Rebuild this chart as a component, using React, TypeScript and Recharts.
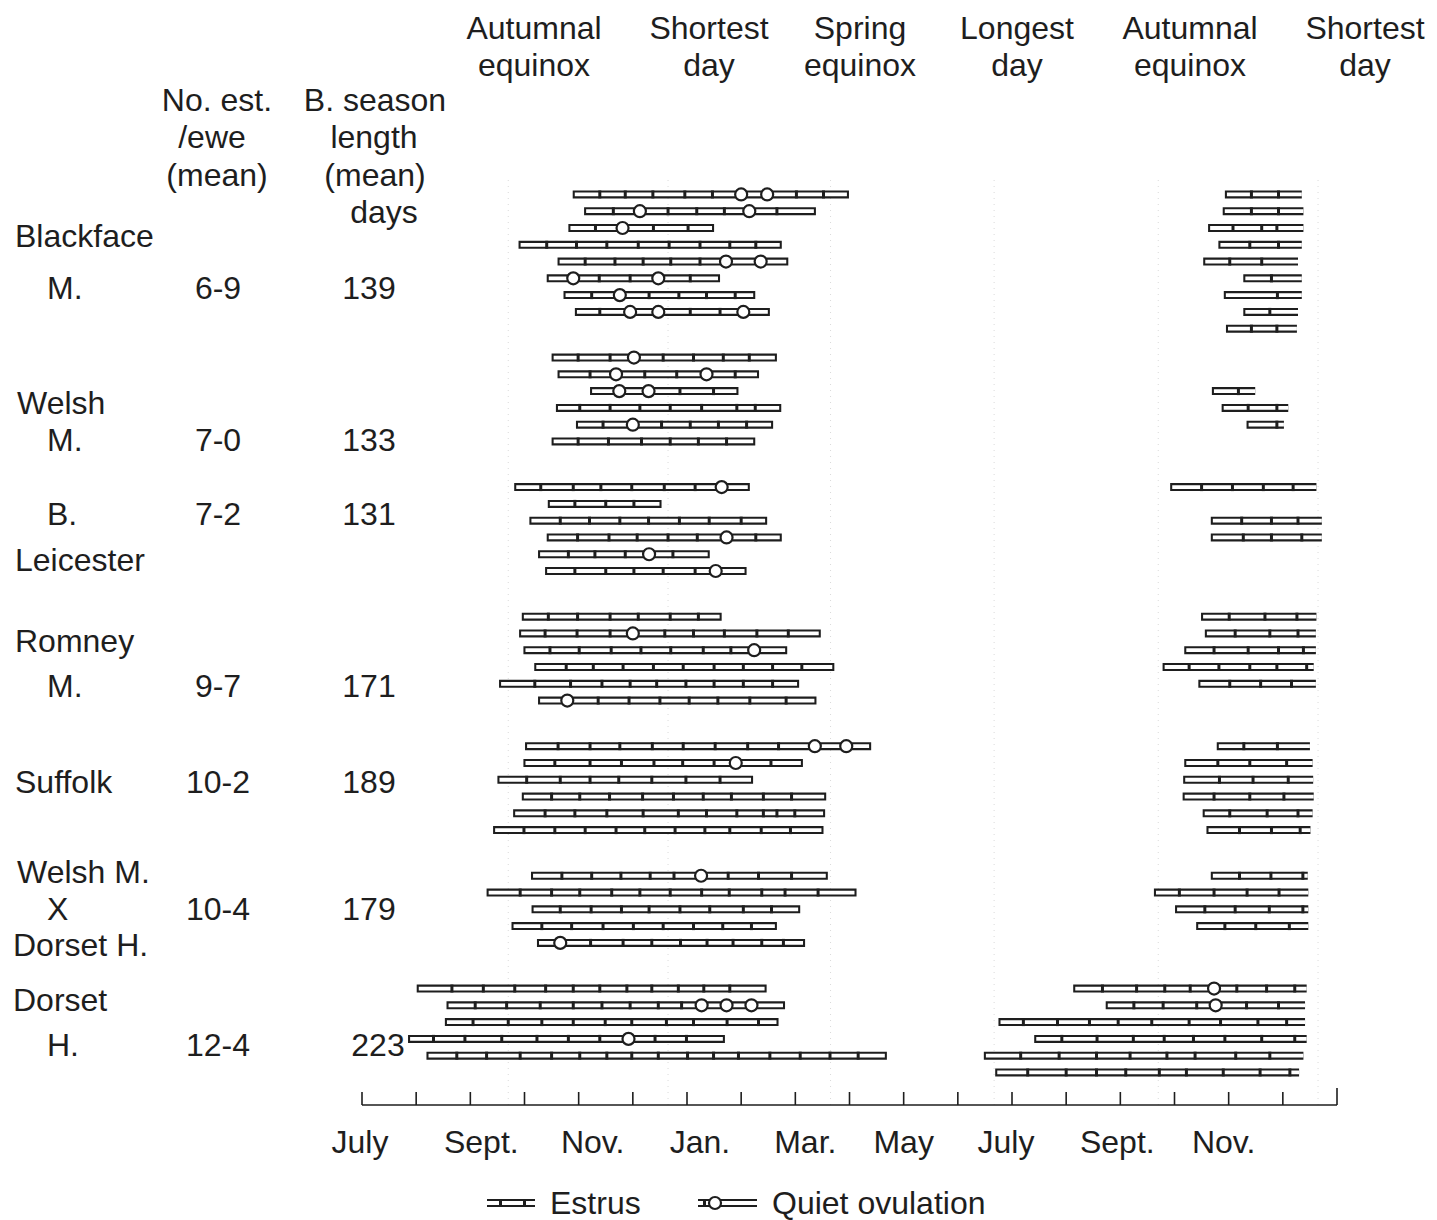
import React from 'react';
import { ComposedChart, Line, Scatter, XAxis, YAxis, ReferenceLine } from 'recharts';

// x values are months counted from 1 July of the first year (0 = July, 18 = end of December next year)
interface Run {
  row: number;
  start: number;
  end: number;
  cycles: number[];
  quiet?: number[];
}

const breedNames = [['Blackface', 'M.'], ['Welsh', 'M.'], ['B.', 'Leicester'], ['Romney', 'M.'], ['Suffolk'], ['Welsh M.', 'X', 'Dorset H.'], ['Dorset', 'H.']];
const estrusPerEwe = ['6-9', '7-0', '7-2', '9-7', '10-2', '10-4', '12-4'];
const seasonLength = ['139', '133', '131', '171', '189', '179', '223'];

const monthTicks = [0, 1, 2, 3, 4, 5, 6, 7, 8, 9, 10, 11, 12, 13, 14, 15, 16, 17, 18];
const labelMonths = [0, 2, 4, 6, 8, 10, 12, 14, 16];
const monthNames = ['July', 'Sept.', 'Nov.', 'Jan.', 'Mar.', 'May', 'July', 'Sept.', 'Nov.'];

const seasonMarks = [2.70, 5.65, 8.65, 11.67, 14.70, 17.65];
const seasonNames = [['Autumnal', 'equinox'], ['Shortest', 'day'], ['Spring', 'equinox'], ['Longest', 'day'], ['Autumnal', 'equinox'], ['Shortest', 'day']];

const blackface: Run[] = [
  { row: 0, start: 3.89, end: 8.99, cycles: [4.39, 4.86, 5.37, 5.96, 6.47, 8.02, 8.52], quiet: [7.00, 7.48] },
  { row: 1, start: 4.10, end: 8.38, cycles: [4.64, 5.65, 6.18, 6.69, 7.66], quiet: [5.13, 7.15] },
  { row: 2, start: 3.81, end: 6.50, cycles: [4.31, 5.38, 6.02], quiet: [4.81] },
  { row: 3, start: 2.89, end: 7.75, cycles: [3.41, 3.96, 4.52, 5.10, 5.67, 6.24, 6.79, 7.27] },
  { row: 4, start: 3.61, end: 7.87, cycles: [4.12, 4.67, 5.19, 5.70, 6.24], quiet: [6.72, 7.36] },
  { row: 5, start: 3.41, end: 6.61, cycles: [4.38, 4.95, 6.06], quiet: [3.90, 5.47] },
  { row: 6, start: 3.72, end: 7.26, cycles: [4.24, 5.30, 5.85, 6.36, 6.89], quiet: [4.76] },
  { row: 7, start: 3.93, end: 7.53, cycles: [4.39, 6.06, 6.61], quiet: [4.95, 5.47, 7.04] },
  { row: 0, start: 15.93, end: 17.35, cycles: [16.42, 16.92] },
  { row: 1, start: 15.89, end: 17.38, cycles: [16.42, 16.92] },
  { row: 2, start: 15.62, end: 17.38, cycles: [16.08, 16.61, 16.89] },
  { row: 3, start: 15.81, end: 17.35, cycles: [16.39, 16.92] },
  { row: 4, start: 15.53, end: 17.28, cycles: [16.02, 16.61] },
  { row: 5, start: 16.27, end: 17.35, cycles: [16.79] },
  { row: 6, start: 15.91, end: 17.35, cycles: [16.90] },
  { row: 7, start: 16.27, end: 17.28, cycles: [16.76] },
  { row: 8, start: 15.95, end: 17.26, cycles: [16.42, 16.89] },
];

const welsh: Run[] = [
  { row: 0, start: 3.50, end: 7.66, cycles: [3.99, 4.58, 5.56, 6.12, 6.67, 7.15], quiet: [5.02] },
  { row: 1, start: 3.61, end: 7.33, cycles: [4.21, 5.22, 5.81, 6.89], quiet: [4.69, 6.36] },
  { row: 2, start: 4.21, end: 6.95, cycles: [5.87, 6.49], quiet: [4.75, 5.29] },
  { row: 3, start: 3.58, end: 7.74, cycles: [4.02, 4.58, 5.13, 5.69, 6.27, 6.92, 7.26] },
  { row: 4, start: 3.95, end: 7.59, cycles: [4.45, 5.53, 6.06, 6.58, 7.10], quiet: [5.00] },
  { row: 5, start: 3.50, end: 7.26, cycles: [3.99, 4.55, 5.16, 5.69, 6.21, 6.73] },
  { row: 2, start: 15.69, end: 16.49, cycles: [16.18] },
  { row: 3, start: 15.87, end: 17.10, cycles: [16.36, 16.89] },
  { row: 4, start: 16.33, end: 17.02, cycles: [16.89] },
];

const borderLeicester: Run[] = [
  { row: 0, start: 2.81, end: 7.16, cycles: [3.30, 3.90, 4.41, 4.98, 5.58, 6.15], quiet: [6.64] },
  { row: 1, start: 3.43, end: 5.53, cycles: [3.93, 4.50, 5.02] },
  { row: 2, start: 3.09, end: 7.48, cycles: [3.66, 4.20, 4.76, 5.29, 5.86, 6.41, 7.00] },
  { row: 3, start: 3.41, end: 7.75, cycles: [3.98, 4.56, 5.08, 5.65, 6.19, 7.27], quiet: [6.73] },
  { row: 4, start: 3.25, end: 6.42, cycles: [3.81, 4.30, 4.86, 5.74], quiet: [5.30] },
  { row: 5, start: 3.38, end: 7.10, cycles: [3.93, 4.50, 5.02, 5.56, 6.15], quiet: [6.53] },
  { row: 0, start: 14.92, end: 17.62, cycles: [15.50, 16.07, 16.64, 17.19] },
  { row: 2, start: 15.67, end: 17.72, cycles: [16.24, 16.79, 17.28] },
  { row: 3, start: 15.67, end: 17.72, cycles: [16.27, 16.79, 17.35] },
];

const romney: Run[] = [
  { row: 0, start: 2.95, end: 6.64, cycles: [3.44, 3.98, 4.58, 5.10, 5.69, 6.21] },
  { row: 1, start: 2.90, end: 8.47, cycles: [3.38, 3.97, 4.58, 5.59, 6.12, 6.69, 7.29, 7.87], quiet: [5.00] },
  { row: 2, start: 2.98, end: 7.85, cycles: [3.47, 4.01, 4.60, 5.15, 5.70, 6.30, 6.81], quiet: [7.24] },
  { row: 3, start: 3.18, end: 8.72, cycles: [3.77, 4.27, 4.82, 5.38, 5.93, 6.50, 7.04, 7.58, 8.12] },
  { row: 4, start: 2.53, end: 8.07, cycles: [3.19, 3.85, 4.43, 4.95, 5.44, 5.98, 6.50, 7.04, 7.58] },
  { row: 5, start: 3.25, end: 8.39, cycles: [4.36, 4.93, 5.50, 6.04, 6.57, 7.16, 7.83], quiet: [3.79] },
  { row: 0, start: 15.49, end: 17.62, cycles: [16.01, 16.67, 17.26] },
  { row: 1, start: 15.56, end: 17.61, cycles: [16.12, 16.76, 17.28] },
  { row: 2, start: 15.18, end: 17.61, cycles: [15.73, 16.36, 16.92, 17.38] },
  { row: 3, start: 14.78, end: 17.57, cycles: [15.27, 15.82, 16.39, 16.89, 17.44] },
  { row: 4, start: 15.44, end: 17.61, cycles: [16.02, 16.59, 17.16] },
];

const suffolk: Run[] = [
  { row: 0, start: 3.01, end: 9.40, cycles: [3.62, 4.21, 4.76, 5.36, 5.93, 6.52, 7.12, 7.69], quiet: [8.36, 8.94] },
  { row: 1, start: 2.98, end: 8.14, cycles: [3.56, 4.21, 4.79, 5.39, 5.92, 6.50, 7.55], quiet: [6.90] },
  { row: 2, start: 2.50, end: 7.22, cycles: [3.04, 3.66, 4.21, 4.74, 5.35, 5.98, 6.61] },
  { row: 3, start: 2.95, end: 8.57, cycles: [3.50, 4.02, 4.57, 5.18, 5.75, 6.30, 6.82, 7.41, 7.93] },
  { row: 4, start: 2.79, end: 8.55, cycles: [3.38, 3.93, 4.52, 5.19, 5.84, 6.36, 6.92, 7.41, 7.66, 7.99] },
  { row: 5, start: 2.42, end: 8.52, cycles: [2.99, 3.56, 4.12, 4.69, 5.22, 5.78, 6.33, 6.79, 7.37, 7.91] },
  { row: 0, start: 15.78, end: 17.50, cycles: [16.28, 16.90] },
  { row: 1, start: 15.18, end: 17.55, cycles: [15.80, 16.39, 17.07] },
  { row: 2, start: 15.16, end: 17.56, cycles: [15.83, 16.45, 17.10] },
  { row: 3, start: 15.15, end: 17.57, cycles: [15.73, 16.39, 17.02] },
  { row: 4, start: 15.52, end: 17.55, cycles: [16.02, 16.71, 17.28] },
  { row: 5, start: 15.59, end: 17.51, cycles: [16.20, 16.79, 17.32] },
];

const welshDorset: Run[] = [
  { row: 0, start: 3.12, end: 8.60, cycles: [3.69, 4.24, 4.78, 5.32, 5.76, 6.76, 7.32, 7.93], quiet: [6.26] },
  { row: 1, start: 2.30, end: 9.13, cycles: [2.92, 3.50, 4.02, 4.61, 5.13, 5.69, 6.27, 6.78, 7.38, 7.81, 8.42] },
  { row: 2, start: 3.13, end: 8.09, cycles: [3.66, 4.23, 4.79, 5.30, 5.87, 6.42, 7.04, 7.56] },
  { row: 3, start: 2.76, end: 7.66, cycles: [3.32, 3.87, 4.45, 5.01, 5.56, 6.12, 6.66, 7.19] },
  { row: 4, start: 3.23, end: 8.18, cycles: [4.22, 4.82, 5.35, 5.88, 6.37, 6.85, 7.38, 7.78], quiet: [3.66] },
  { row: 0, start: 15.67, end: 17.46, cycles: [16.20, 16.78, 17.37] },
  { row: 1, start: 14.62, end: 17.47, cycles: [15.09, 15.73, 16.34, 16.93] },
  { row: 2, start: 15.01, end: 17.47, cycles: [15.56, 16.12, 16.75, 17.37] },
  { row: 3, start: 15.40, end: 17.47, cycles: [15.93, 16.50, 17.12] },
];

const dorset: Run[] = [
  { row: 0, start: 1.01, end: 7.47, cycles: [1.66, 2.24, 2.82, 3.39, 3.90, 4.39, 4.89, 5.35, 5.84, 6.31, 6.79] },
  { row: 1, start: 1.56, end: 7.81, cycles: [2.09, 2.67, 3.29, 3.90, 4.43, 4.95, 5.47, 5.90], quiet: [6.27, 6.73, 7.19] },
  { row: 2, start: 1.53, end: 7.69, cycles: [2.05, 2.70, 3.32, 3.90, 4.49, 4.98, 5.62, 6.12, 6.74, 7.32] },
  { row: 3, start: 0.85, end: 6.70, cycles: [1.32, 1.90, 2.58, 3.23, 3.81, 4.39, 5.41, 5.99], quiet: [4.92] },
  { row: 4, start: 1.19, end: 9.69, cycles: [1.75, 2.30, 2.92, 3.50, 4.02, 4.52, 4.98, 5.47, 6.01, 6.49, 6.95, 7.53, 8.09, 8.64, 9.16] },
  { row: 0, start: 13.13, end: 17.44, cycles: [13.67, 14.30, 14.82, 15.29, 16.15, 16.70, 17.22], quiet: [15.73] },
  { row: 1, start: 13.73, end: 17.41, cycles: [14.25, 14.79, 15.41, 16.33, 16.92], quiet: [15.76] },
  { row: 2, start: 11.75, end: 17.41, cycles: [12.21, 12.84, 13.43, 13.96, 14.58, 15.27, 15.85, 16.54, 17.07] },
  { row: 3, start: 12.41, end: 17.44, cycles: [12.92, 13.57, 14.24, 14.81, 15.35, 15.93, 16.61, 17.22] },
  { row: 4, start: 11.48, end: 17.38, cycles: [12.16, 12.87, 13.56, 14.18, 14.86, 15.38, 16.13, 16.76] },
  { row: 5, start: 11.69, end: 17.30, cycles: [12.29, 13.00, 13.56, 14.10, 14.72, 15.22, 15.90, 16.58, 17.13] },
];

const groups = [blackface, welsh, borderLeicester, romney, suffolk, welshDorset, dorset];

// layout
const ROW_GAP = 1.72;
const CAP = 0.038;
const INK = '#1e1e1e';
const FONT = "'Liberation Sans', Arial, Helvetica, sans-serif";

const leftCounts = groups.map((runs) => runs.filter((r) => r.end < 12).length);
const groupBase: number[] = [];
groups.forEach((_, i) => {
  groupBase.push(i === 0 ? 0 : groupBase[i - 1] + leftCounts[i - 1] + ROW_GAP);
});

const outerPts: { x: number; y: number | null }[] = [];
const innerPts: { x: number; y: number | null }[] = [];
const cyclePts: { x: number; y: number }[] = [];
const quietPts: { x: number; y: number }[] = [];

groups.forEach((runs, g) => {
  runs.forEach((run) => {
    const y = groupBase[g] + run.row;
    const open = run.end > 12; // second season runs go on past the edge
    outerPts.push({ x: run.start, y }, { x: run.end, y }, { x: run.end, y: null });
    innerPts.push({ x: run.start + CAP, y }, { x: open ? run.end : run.end - CAP, y }, { x: run.end, y: null });
    run.cycles.forEach((c) => cyclePts.push({ x: c, y }));
    (run.quiet || []).forEach((q) => quietPts.push({ x: q, y }));
  });
});

const LABEL_NUDGE = [-2, 11, 14, 13, 10, 0, -6, -3, -5];

const MonthTick = (props: any) => {
  const { x, y, payload } = props;
  const idx = labelMonths.indexOf(payload.value);
  const last = payload.value === 18;
  return (
    <g>
      <line x1={x} x2={x} y1={y} y2={y - (last ? 17 : 13)} stroke={INK} strokeWidth={1.6} />
      {idx >= 0 && (
        <text x={x + LABEL_NUDGE[idx]} y={y + 48} textAnchor="middle" fontSize={32} fill={INK} fontFamily={FONT}>
          {monthNames[idx]}
        </text>
      )}
    </g>
  );
};

const CycleMark = (props: any) => {
  const { cx, cy } = props;
  return <rect x={cx - 1.5} y={cy - 4} width={3} height={8} fill={INK} />;
};

const QuietMark = (props: any) => {
  const { cx, cy } = props;
  return <circle cx={cx} cy={cy} r={6} fill="#fff" stroke={INK} strokeWidth={2.2} />;
};

const Txt = ({ x, y, left, children }: { x: number; y: number; left?: boolean; children: React.ReactNode }) => (
  <div
    style={{
      position: 'absolute',
      left: x,
      top: y,
      transform: left ? 'translate(0, -50%)' : 'translate(-50%, -50%)',
      whiteSpace: 'nowrap',
      fontSize: 32,
      lineHeight: '36px',
      color: INK,
      fontFamily: FONT,
    }}
  >
    {children}
  </div>
);

const headerX = [534, 709, 860, 1017, 1190, 1365];
const nameLayout = [
  [[15, 236], [47, 288]],
  [[17, 403], [47, 440]],
  [[47, 514], [15, 560]],
  [[15, 641], [47, 686]],
  [[15, 782]],
  [[17, 872], [47, 909], [13, 945]],
  [[13, 1000], [47, 1045]],
];
const valueY = [288, 440, 514, 686, 782, 909, 1045];

const App: React.FC = () => {
  return (
    <div style={{ position: 'absolute', left: 0, top: 0, width: 1437, height: 1220, background: '#fff', fontFamily: FONT }}>
      <ComposedChart width={1437} height={1220} margin={{ top: 180, right: 100, left: 362, bottom: 55 }}>
        <XAxis
          type="number"
          dataKey="x"
          domain={[0, 18]}
          ticks={monthTicks}
          interval={0}
          allowDataOverflow
          height={60}
          tickSize={0}
          tickMargin={0}
          tickLine={false}
          axisLine={{ stroke: INK, strokeWidth: 1.6 }}
          tick={<MonthTick />}
        />
        <YAxis type="number" dataKey="y" domain={[-0.86, 54.26]} reversed hide allowDataOverflow />
        {seasonMarks.map((m) => (
          <ReferenceLine key={m} x={m} stroke="#dadada" strokeDasharray="1 5" strokeWidth={1} />
        ))}
        <Line
          data={outerPts}
          dataKey="y"
          type="linear"
          stroke={INK}
          strokeWidth={8}
          dot={false}
          activeDot={false}
          connectNulls={false}
          isAnimationActive={false}
        />
        <Line
          data={innerPts}
          dataKey="y"
          type="linear"
          stroke="#fff"
          strokeWidth={3.8}
          dot={false}
          activeDot={false}
          connectNulls={false}
          isAnimationActive={false}
        />
        <Scatter data={cyclePts} dataKey="y" shape={<CycleMark />} isAnimationActive={false} />
        <Scatter data={quietPts} dataKey="y" shape={<QuietMark />} isAnimationActive={false} />
      </ComposedChart>

      {seasonNames.map((lines, i) => (
        <React.Fragment key={i}>
          <Txt x={headerX[i]} y={28}>{lines[0]}</Txt>
          <Txt x={headerX[i]} y={65}>{lines[1]}</Txt>
        </React.Fragment>
      ))}

      <Txt x={217} y={100}>No. est.</Txt>
      <Txt x={212} y={137}>/ewe</Txt>
      <Txt x={217} y={175}>(mean)</Txt>
      <Txt x={375} y={100}>B. season</Txt>
      <Txt x={374} y={137}>length</Txt>
      <Txt x={375} y={175}>(mean)</Txt>
      <Txt x={384} y={212}>days</Txt>

      {breedNames.map((lines, i) => (
        <React.Fragment key={i}>
          {lines.map((t, j) => (
            <Txt key={j} x={nameLayout[i][j][0]} y={nameLayout[i][j][1]} left>{t}</Txt>
          ))}
          <Txt x={218} y={valueY[i]}>{estrusPerEwe[i]}</Txt>
          <Txt x={i === 6 ? 378 : 369} y={valueY[i]}>{seasonLength[i]}</Txt>
        </React.Fragment>
      ))}

      <div style={{ position: 'absolute', left: 487, top: 1190 }}>
        <svg width={50} height={26}>
          <line x1={0} x2={48} y1={10} y2={10} stroke={INK} strokeWidth={2} />
          <line x1={0} x2={48} y1={16} y2={16} stroke={INK} strokeWidth={2} />
          <rect x={12} y={9} width={3} height={8} fill={INK} />
          <rect x={36} y={9} width={3} height={8} fill={INK} />
        </svg>
      </div>
      <Txt x={550} y={1203} left>Estrus</Txt>
      <div style={{ position: 'absolute', left: 698, top: 1190 }}>
        <svg width={62} height={26}>
          <line x1={0} x2={59} y1={10} y2={10} stroke={INK} strokeWidth={2} />
          <line x1={0} x2={59} y1={16} y2={16} stroke={INK} strokeWidth={2} />
          <rect x={5} y={9} width={3} height={8} fill={INK} />
          <circle cx={17} cy={13} r={6} fill="#fff" stroke={INK} strokeWidth={2.2} />
        </svg>
      </div>
      <Txt x={772} y={1203} left>Quiet ovulation</Txt>
    </div>
  );
};

export default App;
